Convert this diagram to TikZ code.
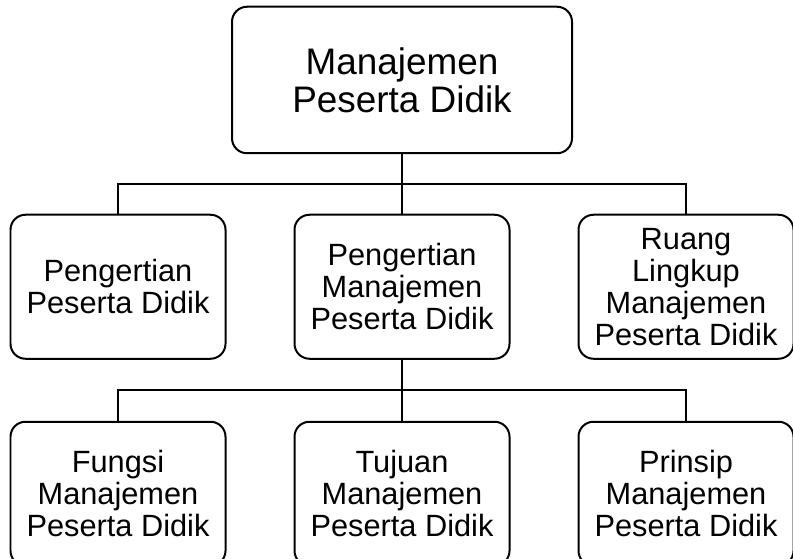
\documentclass[tikz,border=0pt]{standalone}
\usepackage{fontspec}
\setmainfont{Liberation Sans}
\usetikzlibrary{positioning}

\begin{document}
\begin{tikzpicture}[
    node distance=1.34cm,
    topbox/.style={draw, rectangle, rounded corners=0.3cm, line width=0.04cm, minimum width=6.8cm, minimum height=2.93cm, align=center, font=\fontsize{21}{21.8}\selectfont},
    subbox/.style={draw, rectangle, rounded corners=0.3cm, line width=0.04cm, minimum width=4.3cm, minimum height=2.88cm, align=center, font=\fontsize{17.5}{18.2}\selectfont},
    link/.style={line width=0.04cm},
]
    \useasboundingbox (0,0) rectangle (15.86,-11.18);

    \node [topbox] (mpd) at (8.04,-1.6) {Manajemen\\Peserta Didik};

    \node [subbox, below=1.19cm of mpd] (pmpd) {Pengertian\\Manajemen\\Peserta Didik};
    \node [subbox, left=of pmpd] (ppd) {Pengertian\\Peserta Didik};
    \node [subbox, right=of pmpd] (rlmpd) {Ruang\\Lingkup\\Manajemen\\Peserta Didik};

    \node [subbox, below=1.22cm of pmpd] (tmpd) {Tujuan\\Manajemen\\Peserta Didik};
    \node [subbox, left=of tmpd] (fmpd) {Fungsi\\Manajemen\\Peserta Didik};
    \node [subbox, right=of tmpd] (prmpd) {Prinsip\\Manajemen\\Peserta Didik};

    \draw [link] (mpd.south) -- ++(0,-0.595) -| (ppd.north);
    \draw [link] (mpd.south) -- (pmpd.north);
    \draw [link] (mpd.south) -- ++(0,-0.595) -| (rlmpd.north);

    \draw [link] (pmpd.south) -- ++(0,-0.61) -| (fmpd.north);
    \draw [link] (pmpd.south) -- (tmpd.north);
    \draw [link] (pmpd.south) -- ++(0,-0.61) -| (prmpd.north);

\end{tikzpicture}
\end{document}
